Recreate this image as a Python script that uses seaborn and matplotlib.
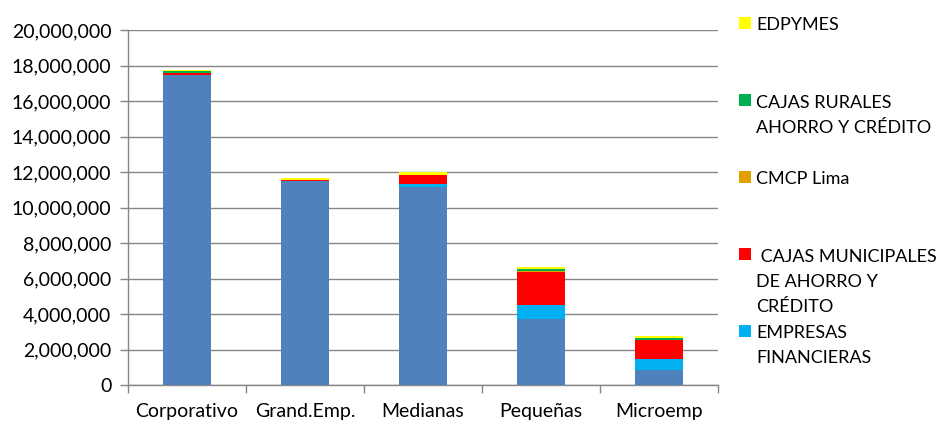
import matplotlib
matplotlib.use("Agg")
import matplotlib.pyplot as plt
import matplotlib.patches as mpatches
from matplotlib.ticker import FuncFormatter, FixedLocator
import numpy as np
import pandas as pd
import seaborn as sns

# Loan portfolio by company size and type of institution
categories = ["Corporativo", "Grand.Emp.", "Medianas", "Pequeñas", "Microemp"]
banca = [17_460_000, 11_510_000, 11_170_000, 3_720_000, 860_000]
empresas_financieras = [10_000, 10_000, 150_000, 770_000, 600_000]
cajas_municipales = [130_000, 10_000, 510_000, 1_890_000, 1_050_000]
cmcp_lima = [5_000, 5_000, 10_000, 20_000, 15_000]
cajas_rurales = [110_000, 5_000, 10_000, 135_000, 110_000]
edpymes = [10_000, 130_000, 130_000, 110_000, 150_000]

series_names = ["BANCA", "EMPRESAS\nFINANCIERAS",
                " CAJAS MUNICIPALES\nDE AHORRO Y\nCRÉDITO", "CMCP Lima",
                "CAJAS RURALES\nAHORRO Y CRÉDITO", "EDPYMES"]
series_values = [banca, empresas_financieras, cajas_municipales,
                 cmcp_lima, cajas_rurales, edpymes]
series_colors = ["#4F81BD", "#00B0F0", "#FF0000", "#E0A000", "#00B050", "#FFFF00"]

sns.set_theme(style="white")
plt.rcParams["font.family"] = ["Lato", "DejaVu Sans"]

fig = plt.figure(figsize=(9.41, 4.21), dpi=100)
ax = fig.add_axes([128 / 941, 1 - 385 / 421, 590 / 941, 355 / 421])

# Stack by drawing cumulative totals from the top layer down
cum = np.cumsum(np.array(series_values, dtype=float), axis=0)
for level in range(len(series_values) - 1, -1, -1):
    df = pd.DataFrame({"cat": categories, "val": cum[level]})
    sns.barplot(data=df, x="cat", y="val", order=categories, color=series_colors[level],
                saturation=1, width=0.4, ax=ax, zorder=3, linewidth=0)

ax.set_xlim(-0.5, len(categories) - 0.5)
ax.set_ylim(0, 20_000_000)
ax.set_yticks(np.arange(0, 20_000_001, 2_000_000))
ax.yaxis.set_major_formatter(FuncFormatter(lambda v, p: f"{int(v):,}"))
ax.set_xlabel("")
ax.set_ylabel("")

grid_c = "#868686"
ax.grid(axis="y", color=grid_c, linewidth=1, zorder=0)
ax.set_axisbelow(True)
for s in ["top", "right"]:
    ax.spines[s].set_visible(False)
for s in ["left", "bottom"]:
    ax.spines[s].set_color(grid_c)
    ax.spines[s].set_linewidth(1)

ax.tick_params(axis="y", which="major", left=True, length=6, width=1, color=grid_c,
               labelsize=14, labelcolor="black", pad=6)
ax.tick_params(axis="x", which="major", bottom=False, length=0, labelsize=14,
               labelcolor="black", pad=13)
ax.xaxis.set_minor_locator(FixedLocator(np.arange(-0.5, len(categories), 1.0)))
ax.tick_params(axis="x", which="minor", bottom=True, length=6, width=1, color=grid_c)

# Legend entries placed down the right-hand side
entries = [
    (5, 23, 23),
    (4, 100, 101),
    (3, 177, 177),
    (2, 254, 255),
    (1, 331, 331),
]
for idx, marker_y, text_y in entries:
    fig.patches.append(mpatches.Rectangle(
        (739 / 941, 1 - (marker_y + 6) / 421), 12 / 941, 12 / 421,
        transform=fig.transFigure, facecolor=series_colors[idx], edgecolor="none"))
    fig.text(756 / 941, 1 - (text_y - 6) / 421, series_names[idx], fontsize=13,
             va="top", ha="left", color="black", linespacing=1.68)

fig.savefig("out.png", dpi=100, facecolor="white")
